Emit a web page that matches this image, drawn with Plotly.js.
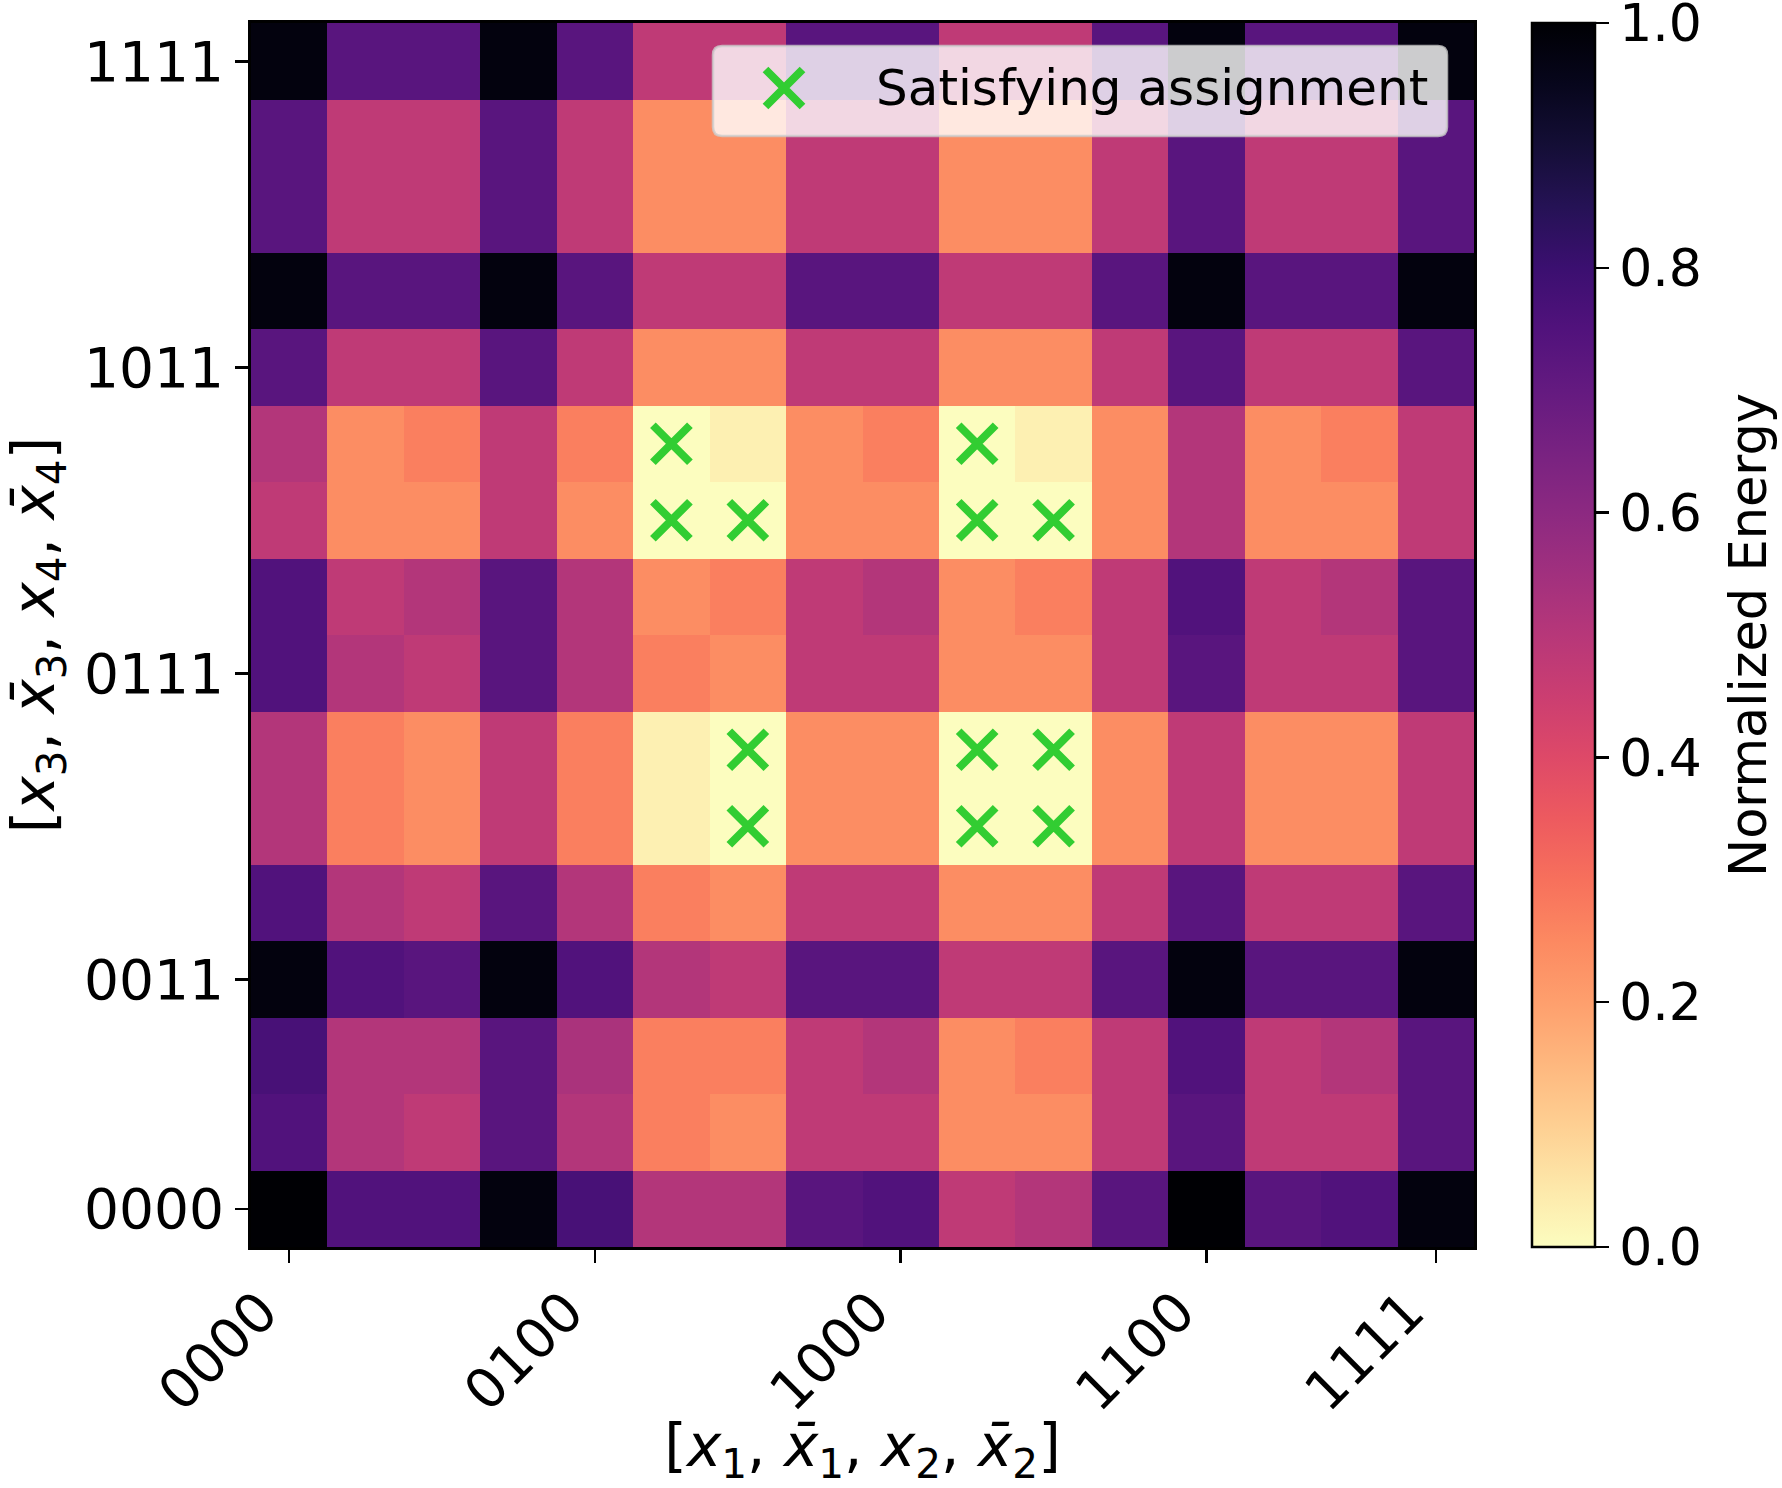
<!DOCTYPE html>
<html>
<head>
<meta charset="utf-8">
<script src="https://cdn.plot.ly/plotly-3.0.1.min.js"></script>
<style>
  html, body { margin: 0; padding: 0; background: #ffffff; }
  #chart { width: 1782px; height: 1488px; }
</style>
</head>
<body>
<div id="chart"></div>
<script>
// States of [x1, x̄1, x2, x̄2] (columns) and [x3, x̄3, x4, x̄4] (rows)
const xStates = ['0000','0001','0010','0011','0100','0101','0110','0111',
                 '1000','1001','1010','1011','1100','1101','1110','1111'];
const yStates = ['0000','0001','0010','0011','0100','0101','0110','0111',
                 '1000','1001','1010','1011','1100','1101','1110','1111'];

// Tick labels shown on each axis
const xTickLabels = ['0000','0100','1000','1100','1111'];
const yTickLabels = ['0000','0011','0111','1011','1111'];

// Normalized energy, one array per row state (x3 x̄3 x4 x̄4)
const row0000 = [1.00,0.75,0.75,0.98,0.77,0.51,0.51,0.73,0.75,0.48,0.51,0.73,1.00,0.73,0.75,0.98];
const row0001 = [0.75,0.51,0.48,0.73,0.51,0.27,0.24,0.48,0.48,0.24,0.24,0.48,0.73,0.48,0.48,0.73];
const row0010 = [0.77,0.51,0.51,0.73,0.53,0.27,0.27,0.48,0.51,0.24,0.27,0.48,0.75,0.48,0.51,0.73];
const row0011 = [0.98,0.75,0.73,0.98,0.75,0.51,0.48,0.73,0.73,0.48,0.48,0.73,0.98,0.73,0.73,0.98];
const row0100 = [0.75,0.51,0.48,0.73,0.51,0.27,0.24,0.48,0.48,0.24,0.24,0.48,0.73,0.48,0.48,0.73];
const row0101 = [0.51,0.27,0.24,0.48,0.27,0.03,0.00,0.24,0.24,0.00,0.00,0.24,0.48,0.24,0.24,0.48];
const row0110 = [0.51,0.27,0.24,0.48,0.27,0.03,0.00,0.24,0.24,0.00,0.00,0.24,0.48,0.24,0.24,0.48];
const row0111 = [0.75,0.51,0.48,0.73,0.51,0.27,0.24,0.48,0.48,0.24,0.24,0.48,0.73,0.48,0.48,0.73];
const row1000 = [0.75,0.48,0.51,0.73,0.51,0.24,0.27,0.48,0.51,0.24,0.27,0.48,0.75,0.48,0.51,0.73];
const row1001 = [0.48,0.24,0.24,0.48,0.24,0.00,0.00,0.24,0.24,0.00,0.00,0.24,0.51,0.24,0.24,0.48];
const row1010 = [0.51,0.24,0.27,0.48,0.27,0.00,0.03,0.24,0.27,0.00,0.03,0.24,0.51,0.24,0.27,0.48];
const row1011 = [0.73,0.48,0.48,0.73,0.48,0.24,0.24,0.48,0.48,0.24,0.24,0.48,0.73,0.48,0.48,0.73];
const row1100 = [0.98,0.73,0.73,0.98,0.73,0.48,0.48,0.73,0.73,0.48,0.48,0.73,0.98,0.73,0.73,0.98];
const row1101 = [0.73,0.48,0.48,0.73,0.48,0.24,0.24,0.48,0.48,0.24,0.24,0.48,0.73,0.48,0.48,0.73];
const row1110 = [0.73,0.48,0.48,0.73,0.48,0.24,0.24,0.48,0.48,0.24,0.24,0.48,0.73,0.48,0.48,0.73];
const row1111 = [0.98,0.73,0.73,0.98,0.73,0.48,0.48,0.73,0.73,0.48,0.48,0.73,0.98,0.73,0.73,0.98];

// Satisfying assignments (column state, row state)
const satX = ['0101','0101','0110','1001','1001','1010','0110','0110','1001','1010','1001','1010'];
const satY = ['1010','1001','1001','1010','1001','1001','0110','0101','0110','0110','0101','0101'];

const legendLabel = 'Satisfying assignment';
const colorbarLabel = 'Normalized Energy';
const colorbarTicks = [0, 0.2, 0.4, 0.6, 0.8, 1.0];

// ---------------------------------------------------------------
const energy = [row0000,row0001,row0010,row0011,row0100,row0101,row0110,row0111,
                row1000,row1001,row1010,row1011,row1100,row1101,row1110,row1111];

// matplotlib "magma", reversed so low energy is light
const magma = ['#000004','#07061c','#140e36','#251255','#3b0f70','#51127c','#641a80',
               '#782281','#8c2981','#a1307e','#b73779','#cb3e71','#de4968','#ed5a5f',
               '#f7705c','#fc8961','#fe9f6d','#feb77e','#fecf92','#fde7a9','#fcfdbf'];
const magmaR = magma.slice().reverse().map((c, i, a) => [i / (a.length - 1), c]);

const FONT = 'DejaVu Sans, Verdana, sans-serif';
const TICK_FS = 55, CB_FS = 52, LEG_FS = 50, TITLE_FS = 58;
const W = 1782, H = 1488;
const M = { l: 251, r: 308, t: 23, b: 241 };
const PW = W - M.l - M.r, PH = H - M.t - M.b;

// pixel -> paper helpers for the legend box and colorbar label
const px = v => (v - M.l) / PW;
const py = v => (H - M.b - v) / PH;

const heat = {
  type: 'heatmap',
  x: xStates, y: yStates, z: energy,
  zmin: 0, zmax: 1,
  colorscale: magmaR,
  xgap: 0, ygap: 0,
  hoverinfo: 'skip',
  colorbar: {
    x: px(1532), xanchor: 'left', xpad: 0,
    y: 0.5, yanchor: 'middle', ypad: 0,
    len: 1, lenmode: 'fraction',
    thickness: 63,
    outlinewidth: 2.5, outlinecolor: '#000',
    tickmode: 'array', tickvals: colorbarTicks, tickformat: '.1f',
    tickprefix: '\u2009',
    ticklabeloverflow: 'allow',
    ticks: 'outside', ticklen: 13, tickwidth: 2.5, tickcolor: '#000',
    tickfont: { family: FONT, size: CB_FS, color: '#000' }
  }
};

const sat = {
  type: 'scatter', mode: 'markers',
  x: satX, y: satY,
  name: legendLabel,
  showlegend: false,
  hoverinfo: 'skip',
  marker: { symbol: 'x-thin', size: 37, color: '#32cd32',
            line: { width: 8, color: '#32cd32' } }
};

// legend frame (rounded, translucent) and its key glyph
const bx0 = px(713), bx1 = px(1447), by0 = py(136), by1 = py(46);
const rx = 9 / PW, ry = 9 / PH;
const framePath =
  `M ${bx0 + rx},${by1} L ${bx1 - rx},${by1} Q ${bx1},${by1} ${bx1},${by1 - ry} ` +
  `L ${bx1},${by0 + ry} Q ${bx1},${by0} ${bx1 - rx},${by0} ` +
  `L ${bx0 + rx},${by0} Q ${bx0},${by0} ${bx0},${by0 + ry} ` +
  `L ${bx0},${by1 - ry} Q ${bx0},${by1} ${bx0 + rx},${by1} Z`;
const kx = px(784), ky = py(88), kdx = 18.5 / PW, kdy = 18.5 / PH;
const keyPath = `M ${kx - kdx},${ky - kdy} L ${kx + kdx},${ky + kdy} M ${kx - kdx},${ky + kdy} L ${kx + kdx},${ky - kdy}`;

const axisCommon = {
  type: 'category',
  showgrid: false, zeroline: false,
  showline: true, mirror: true, linecolor: '#000', linewidth: 3,
  ticks: 'outside', ticklen: 13, tickwidth: 2.5, tickcolor: '#000',
  tickfont: { family: FONT, size: TICK_FS, color: '#000' },
  tickmode: 'array',
  fixedrange: true,
  automargin: false
};

const layout = {
  width: W, height: H,
  margin: M,
  paper_bgcolor: '#fff', plot_bgcolor: '#fff',
  font: { family: FONT, color: '#000' },
  showlegend: false,
  xaxis: Object.assign({}, axisCommon, {
    categoryorder: 'array', categoryarray: xStates,
    tickvals: xTickLabels, ticktext: xTickLabels,
    tickangle: -45,
    ticklabelshift: -28, ticklabelstandoff: -6,
    range: [-0.5, 15.5],
    title: { text: '[<i>x</i><sub>1</sub>, <i>x̄</i><sub>1</sub>, <i>x</i><sub>2</sub>, <i>x̄</i><sub>2</sub>]',
             font: { family: FONT, size: TITLE_FS, color: '#000' }, standoff: 14 }
  }),
  yaxis: Object.assign({}, axisCommon, {
    categoryorder: 'array', categoryarray: yStates,
    tickvals: yTickLabels, ticktext: yTickLabels,
    range: [-0.5, 15.5],
    title: { text: '[<i>x</i><sub>3</sub>, <i>x̄</i><sub>3</sub>, <i>x</i><sub>4</sub>, <i>x̄</i><sub>4</sub>]',
             font: { family: FONT, size: TITLE_FS, color: '#000' }, standoff: 16 }
  }),
  shapes: [
    { type: 'path', xref: 'paper', yref: 'paper', path: framePath, layer: 'above',
      fillcolor: 'rgba(255,255,255,0.8)', line: { color: 'rgba(204,204,204,0.8)', width: 2.5 } },
    { type: 'path', xref: 'paper', yref: 'paper', path: keyPath, layer: 'above',
      line: { color: '#32cd32', width: 8 } }
  ],
  annotations: [
    { xref: 'paper', yref: 'paper', x: px(874), y: py(88),
      xanchor: 'left', yanchor: 'middle', showarrow: false,
      text: legendLabel, font: { family: FONT, size: LEG_FS, color: '#000' } },
    { xref: 'paper', yref: 'paper', x: px(1748), y: 0.5,
      xanchor: 'center', yanchor: 'middle', showarrow: false, textangle: -90,
      text: colorbarLabel, font: { family: FONT, size: 51, color: '#000' } }
  ]
};

Plotly.newPlot('chart', [heat, sat], layout, { staticPlot: true, displayModeBar: false });
</script>
</body>
</html>
